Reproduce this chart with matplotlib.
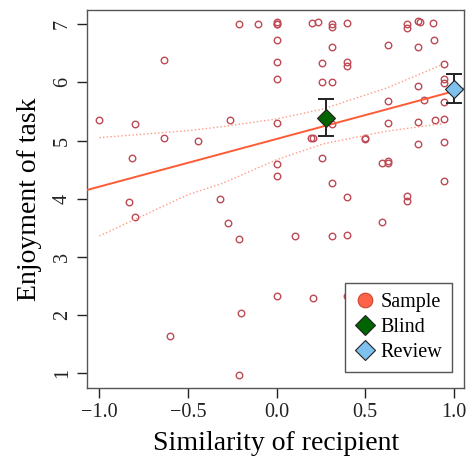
import numpy as np
import matplotlib.pyplot as plt
from matplotlib.lines import Line2D

plt.rcParams['font.family'] = ['Liberation Serif', 'DejaVu Serif']

# sample points (similarity, enjoyment)
sample_x = [-1.0, -0.80, -0.26, -0.633, -0.445, -0.815, -0.834, -0.317, -0.80,
            -0.272, -0.212, -0.21, -0.106, -0.633, -0.20, -0.60, -0.21,
            0.0, 0.0, 0.0, 0.0, 0.0, 0.0, 0.0, 0.0, 0.0, 0.0,
            0.104, 0.257, 0.40, 0.40, 0.257, 0.315, 0.315, 0.197, 0.206,
            0.498, 0.498, 0.257, 0.315, 0.398, 0.315, 0.398, 0.597, 0.629,
            0.629, 0.597, 0.629, 0.629, 0.736, 0.736, 0.80, 0.832, 0.80,
            0.80, 0.893, 0.943, 0.943, 0.943, 0.945, 0.945, 0.945, 0.945,
            0.199, 0.236, 0.315, 0.315, 0.40, 0.735, 0.735, 0.80, 0.81,
            0.885, 0.315, 0.63, 0.80, 0.89, 0.208, 0.396]
sample_y = [5.35, 5.28, 5.36, 5.05, 5.0, 4.70, 3.95, 3.99, 3.68,
            3.59, 3.31, 7.01, 7.01, 6.38, 2.03, 1.64, 0.97,
            7.0, 7.0, 7.03, 6.73, 6.35, 6.06, 5.30, 4.59, 4.39, 2.33,
            3.36, 6.34, 6.35, 6.28, 6.01, 6.01, 5.28, 5.04, 5.04,
            5.05, 5.02, 4.70, 4.27, 4.03, 3.36, 3.37, 4.61, 4.65,
            4.62, 3.60, 5.68, 5.30, 4.05, 3.96, 5.94, 5.69, 5.32,
            4.94, 5.35, 6.31, 6.05, 5.99, 5.665, 5.37, 4.97, 4.30,
            7.02, 7.04, 7.0, 6.95, 7.02, 7.01, 6.93, 7.05, 7.04,
            7.02, 6.60, 6.64, 6.61, 6.73, 2.30, 2.33]

# fitted line and its confidence band
fit_x = [-1.07, 1.06]
fit_y = [4.15, 5.895]
band_x = [-1.0, -0.5, -0.3, 0.0, 0.26, 0.62, 0.94]
band_upper = [5.05, 5.17, 5.24, 5.37, 5.54, 5.90, 6.31]
band_lower = [3.36, 4.07, 4.27, 4.67, 4.94, 5.16, 5.29]

# condition means with error bars
cond_names = ['Blind', 'Review']
cond_x = [0.278, 1.0]
cond_y = [5.39, 5.88]
cond_lo = [5.08, 5.65]
cond_hi = [5.71, 6.15]
cond_colors = ['#006400', '#7EC0EE']

fig = plt.figure(figsize=(4.67, 4.61), dpi=100)
ax = fig.add_axes([0.187, 0.158, 0.8066, 0.82])

ax.plot(sample_x, sample_y, 'o', ms=4.7, mfc='none', mec='#BE4A55', mew=1.0, zorder=2)
ax.plot(fit_x, fit_y, color='#FF5A36', lw=1.4, zorder=3)
ax.plot(band_x, band_upper, ':', color='#FF9A85', lw=1.0, zorder=3)
ax.plot(band_x, band_lower, ':', color='#FF9A85', lw=1.0, zorder=3)

for i in range(len(cond_x)):
    ax.errorbar(cond_x[i], cond_y[i],
                yerr=[[cond_y[i] - cond_lo[i]], [cond_hi[i] - cond_y[i]]],
                fmt='none', ecolor='#222222', elinewidth=1.4, capsize=6, capthick=1.4, zorder=4)
    ax.plot(cond_x[i], cond_y[i], 'D', ms=9, mfc=cond_colors[i], mec='#222222', mew=0.8, zorder=5)

ax.set_xlim(-1.068, 1.058)
ax.set_ylim(0.745, 7.24)
ax.set_xticks([-1.0, -0.5, 0.0, 0.5, 1.0])
ax.set_xticklabels(['\u22121.0', '\u22120.5', '0.0', '0.5', '1.0'])
ax.set_yticks([1, 2, 3, 4, 5, 6, 7])
ax.tick_params(direction='out', length=7, width=1, labelsize=14.5, colors='#222222', pad=4)
for lab in ax.get_yticklabels():
    lab.set_rotation(90)
    lab.set_va('center')
for s in ax.spines.values():
    s.set_color('#555555')
    s.set_linewidth(1.0)

ax.set_xlabel('Similarity of recipient', fontsize=20, labelpad=6)
ax.set_ylabel('Enjoyment of task', fontsize=20, labelpad=8)

handles = [Line2D([], [], ls='none', marker='o', ms=10.5, mfc='#FF6347', mec='#D04030', mew=0.8)]
for i in range(len(cond_names)):
    handles.append(Line2D([], [], ls='none', marker='D', ms=10, mfc=cond_colors[i], mec='#222222', mew=0.8))
leg = ax.legend(handles, ['Sample'] + cond_names, loc='lower right', bbox_to_anchor=(0.968, 0.042),
                fontsize=14.5, frameon=True, fancybox=False, framealpha=1, edgecolor='#555555',
                handletextpad=0.25, labelspacing=0.3, borderpad=0.5, handlelength=1.0, borderaxespad=0)
leg.get_frame().set_linewidth(1.0)

fig.savefig('out.png', dpi=100)
